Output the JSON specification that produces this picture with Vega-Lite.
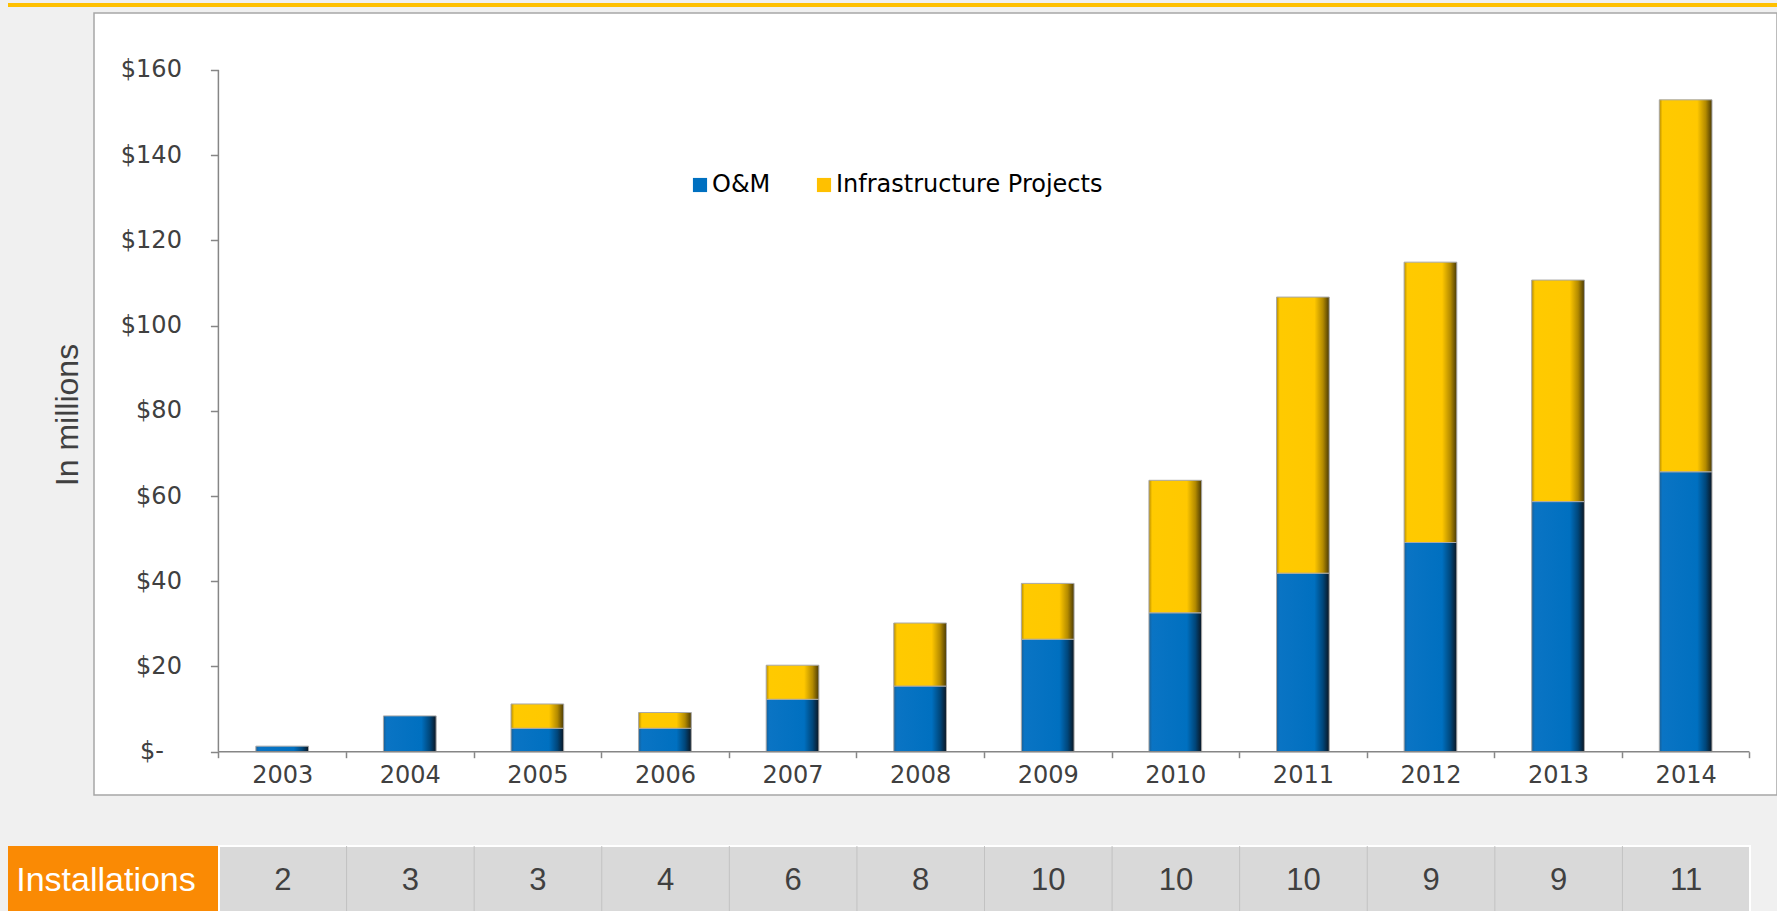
{
  "$schema": "https://vega.github.io/schema/vega-lite/v6.json",
  "background": "#f0f0f0",
  "padding": {"left": 8, "top": 3, "right": 0, "bottom": 0},
  "config": {"view": {"stroke": null}, "axis": {"grid": false}, "font": "Liberation Sans"},
  "datasets": {
    "funding": [
      {"year": 2003, "series": "O&M", "value": 1.3},
      {"year": 2004, "series": "O&M", "value": 8.4},
      {"year": 2005, "series": "O&M", "value": 5.5},
      {"year": 2006, "series": "O&M", "value": 5.5},
      {"year": 2007, "series": "O&M", "value": 12.3},
      {"year": 2008, "series": "O&M", "value": 15.4},
      {"year": 2009, "series": "O&M", "value": 26.4},
      {"year": 2010, "series": "O&M", "value": 32.6},
      {"year": 2011, "series": "O&M", "value": 41.9},
      {"year": 2012, "series": "O&M", "value": 49.1},
      {"year": 2013, "series": "O&M", "value": 58.7},
      {"year": 2014, "series": "O&M", "value": 65.7},
      {"year": 2003, "series": "Infrastructure Projects", "value": 0},
      {"year": 2004, "series": "Infrastructure Projects", "value": 0},
      {"year": 2005, "series": "Infrastructure Projects", "value": 5.7},
      {"year": 2006, "series": "Infrastructure Projects", "value": 3.7},
      {"year": 2007, "series": "Infrastructure Projects", "value": 8.0},
      {"year": 2008, "series": "Infrastructure Projects", "value": 14.8},
      {"year": 2009, "series": "Infrastructure Projects", "value": 13.1},
      {"year": 2010, "series": "Infrastructure Projects", "value": 31.1},
      {"year": 2011, "series": "Infrastructure Projects", "value": 64.8},
      {"year": 2012, "series": "Infrastructure Projects", "value": 65.8},
      {"year": 2013, "series": "Infrastructure Projects", "value": 52.0},
      {"year": 2014, "series": "Infrastructure Projects", "value": 87.3}
    ],
    "installations": [
      {"year": 2003, "count": 2},
      {"year": 2004, "count": 3},
      {"year": 2005, "count": 3},
      {"year": 2006, "count": 4},
      {"year": 2007, "count": 6},
      {"year": 2008, "count": 8},
      {"year": 2009, "count": 10},
      {"year": 2010, "count": 10},
      {"year": 2011, "count": 10},
      {"year": 2012, "count": 9},
      {"year": 2013, "count": 9},
      {"year": 2014, "count": 11}
    ]
  },
  "spacing": 48,
  "vconcat": [
    {
      "spacing": 5,
      "vconcat": [
        {
          "width": 1769, "height": 4,
          "data": {"values": [{}]},
          "mark": {"type": "rect", "color": "#ffc000"},
          "encoding": {}
        },
        {
          "spacing": 0,
          "hconcat": [
            {
              "width": 85, "height": 782,
              "data": {"values": [{}]},
              "mark": {"type": "text", "text": "In millions", "angle": 270, "font": "Liberation Sans", "fontSize": 32, "color": "#404040", "baseline": "middle", "align": "center", "dy": 17, "dx": -11},
              "encoding": {}
            },
            {
              "width": 1683, "height": 782,
              "view": {"fill": "#ffffff", "stroke": "#a6a6a6", "strokeWidth": 1.5},
              "data": {"name": "funding"},
              "layer": [
                {
                  "transform": [
                    {"stack": "value", "groupby": ["year"], "sort": [{"field": "series", "order": "descending"}], "as": ["v0", "v1"]},
                    {"filter": "datum.series === 'O&M'"}
                  ],
                  "mark": {"type": "bar", "width": 52.7, "stroke": "#a8a8a8", "strokeWidth": 1,
                    "fill": {"gradient": "linear", "x1": 0, "y1": 0, "x2": 1, "y2": 0, "stops": [
                      {"offset": 0, "color": "#1a5f96"}, {"offset": 0.06, "color": "#0a74c4"}, {"offset": 0.72, "color": "#0070c0"}, {"offset": 0.88, "color": "#00467a"}, {"offset": 1, "color": "#0b1622"}]}},
                  "encoding": {
                    "x": {"field": "year", "type": "quantitative",
                      "scale": {"domain": [2001.525, 2014.716], "nice": false, "zero": false, "padding": 0},
                      "axis": {"title": null, "orient": "bottom", "offset": -43.3, "zindex": 1,
                        "values": [2002.5, 2003.5, 2004.5, 2005.5, 2006.5, 2007.5, 2008.5, 2009.5, 2010.5, 2011.5, 2012.5, 2013.5, 2014.5],
                        "domain": false, "ticks": true, "labels": true, "tickSize": 6, "tickColor": "#868686", "tickWidth": 1.5,
                        "labelExpr": "datum.value < 2014 ? '' + (datum.value + 0.5) : ''",
                        "labelOffset": 63.8, "labelPadding": 6, "labelFont": "DejaVu Sans", "labelFontSize": 24, "labelColor": "#404040",
                        "labelFlush": false, "labelOverlap": false, "labelBound": false}},
                    "y": {"field": "v0", "type": "quantitative",
                      "scale": {"domain": [-10.163, 173.378], "nice": false, "zero": false, "padding": 0},
                      "axis": {"title": null, "orient": "left", "offset": -124.4, "zindex": 1,
                        "values": [0, 20, 40, 60, 80, 100, 120, 140, 160],
                        "domain": false, "ticks": true, "labels": true, "tickSize": 8, "tickColor": "#868686", "tickWidth": 1.5,
                        "labelExpr": "datum.value === 0 ? '$-' : '$' + datum.value",
                        "labelPadding": {"condition": {"test": "datum.value === 0", "value": 47}, "value": 29},
                        "labelFont": "DejaVu Sans", "labelFontSize": 24, "labelColor": "#404040", "labelOverlap": false, "labelBound": false, "labelFlush": false}},
                    "y2": {"field": "v1"}
                  }
                },
                {
                  "transform": [
                    {"stack": "value", "groupby": ["year"], "sort": [{"field": "series", "order": "descending"}], "as": ["v0", "v1"]},
                    {"filter": "datum.series === 'Infrastructure Projects' && datum.value > 0"}
                  ],
                  "mark": {"type": "bar", "width": 52.7, "stroke": "#a8a8a8", "strokeWidth": 1,
                    "fill": {"gradient": "linear", "x1": 0, "y1": 0, "x2": 1, "y2": 0, "stops": [
                      {"offset": 0, "color": "#b58a00"}, {"offset": 0.06, "color": "#ffca00"}, {"offset": 0.72, "color": "#ffc800"}, {"offset": 0.88, "color": "#b38a00"}, {"offset": 1, "color": "#4a3a06"}]}},
                  "encoding": {
                    "x": {"field": "year", "type": "quantitative"},
                    "y": {"field": "v0", "type": "quantitative"},
                    "y2": {"field": "v1"}
                  }
                },
                {
                  "mark": {"type": "square", "opacity": 0},
                  "encoding": {
                    "x": {"field": "year", "type": "quantitative"},
                    "y": {"field": "value", "type": "quantitative"},
                    "color": {"field": "series", "type": "nominal",
                      "scale": {"domain": ["O&M", "Infrastructure Projects"], "range": ["#0070c0", "#ffc000"]},
                      "legend": {"title": null, "orient": "none", "legendX": 680, "legendY": 170, "direction": "horizontal",
                        "symbolType": "square", "symbolSize": 200, "symbolOpacity": 1, "symbolStrokeWidth": 0,
                        "labelFont": "DejaVu Sans", "labelFontSize": 24, "labelColor": "#000000", "labelOffset": 0, "labelLimit": 0, "columnPadding": 41}}
                  }
                },
                {
                  "data": {"values": [{}]},
                  "mark": {"type": "rule", "color": "#868686", "strokeWidth": 1.5},
                  "encoding": {
                    "x": {"datum": 2002.5, "type": "quantitative"},
                    "x2": {"datum": 2014.5},
                    "y": {"datum": 0, "type": "quantitative"}
                  }
                },
                {
                  "data": {"values": [{}]},
                  "mark": {"type": "rule", "color": "#868686", "strokeWidth": 1.5},
                  "encoding": {
                    "x": {"datum": 2002.5, "type": "quantitative"},
                    "y": {"datum": 0, "type": "quantitative"},
                    "y2": {"datum": 160}
                  }
                }
              ]
            }
          ]
        }
      ]
    },
    {
      "spacing": 0,
      "hconcat": [
        {
          "width": 210, "height": 69,
          "view": {"fill": "#fa8a04", "stroke": null},
          "data": {"values": [{}]},
          "mark": {"type": "text", "text": "Installations", "font": "Liberation Sans", "fontSize": 34, "color": "#ffffff", "dx": -7, "dy": 0},
          "encoding": {}
        },
        {
          "width": 1531, "height": 69,
          "view": {"fill": "#d9d9d9", "stroke": "#ffffff", "strokeWidth": 2},
          "data": {"name": "installations"},
          "layer": [
            {
              "transform": [{"filter": "datum.year > 2003"}],
              "mark": {"type": "rule", "color": "#c2c2c2", "strokeWidth": 1},
              "encoding": {
                "x": {"field": "year", "type": "ordinal", "bandPosition": 0, "scale": {"paddingInner": 0, "paddingOuter": 0}, "axis": null}
              }
            },
            {
              "mark": {"type": "text", "font": "Liberation Sans", "fontSize": 31, "color": "#404040", "dy": 0},
              "encoding": {
                "x": {"field": "year", "type": "ordinal", "axis": null},
                "text": {"field": "count"}
              }
            }
          ]
        }
      ]
    }
  ]
}
